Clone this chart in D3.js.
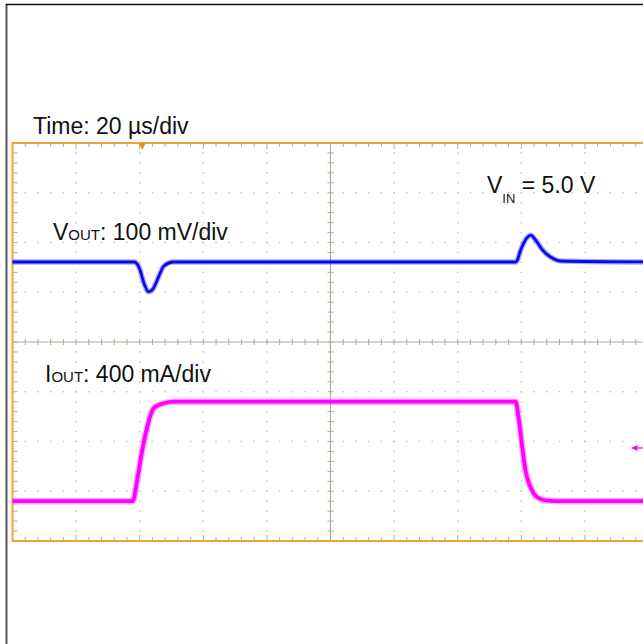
<!DOCTYPE html>
<html><head><meta charset="utf-8">
<script src="https://cdn.jsdelivr.net/npm/d3@7"></script>
<style>html,body{margin:0;padding:0;background:#fff;}svg{display:block;}</style>
</head><body>
<svg id="c" width="643" height="644"></svg>
<script>
// ---- Data (time in µs, 20 µs/div, 10 divisions) ----
const voutTime = [0, 38.3, 40.0, 41.3, 42.8, 44.2, 45.8, 47.6, 50.5, 158.2, 158.6, 159.8, 161.7, 163.0, 164.5, 166.7, 169.2, 172.3, 200];
const voutMv   = [0, 0, -14, -42, -60, -54, -32, -8, 0, 0, 2, 24, 48, 54, 44, 24, 10, 2, 0];
const ioutTime = [0, 37.8, 39.2, 40.8, 42.35, 44.4, 47.6, 50.6, 158.2, 159.2, 160.3, 161.3, 162.9, 165.0, 168.1, 173.3, 200];
const ioutMa   = [0, 0, 169, 410, 595, 748, 788, 800, 800, 660, 434, 249, 113, 32, 5, 0, 0];
const labels = {time: "Time: 20 µs/div", vout: ": 100 mV/div", iout: ": 400 mA/div", vin: " = 5.0 V"};
const voutScale = 100;  // mV/div
const ioutScale = 400;  // mA/div

const svg = d3.select("#c");
const FONT = "'Liberation Sans', Arial, sans-serif";

// outer frame
svg.append("line").attr("x1",6.5).attr("x2",6.5).attr("y1",4).attr("y2",644).attr("stroke","#555").attr("stroke-width",2);
svg.append("line").attr("x1",6).attr("x2",643).attr("y1",4.5).attr("y2",4.5).attr("stroke","#111").attr("stroke-width",1.5);

const x = d3.scaleLinear().domain([0, 200]).range([12.5, 648.5]);
const yDiv = d3.scaleLinear().domain([-4, 4]).range([541, 143]);
const xDivW = (x(200)-x(0))/10, yDivH = (yDiv(-4)-yDiv(4))/8;

const g = svg.append("g");
// dotted grid
const gridCol = "#c8c8c8";
for (let k = 1; k < 10; k++) {
  if (k === 5) continue;
  const xx = x(k*20);
  for (let m = 1; m < 40; m++) {
    g.append("rect").attr("x", xx-0.75).attr("y", yDiv(4) + m*yDivH/5 - 0.75).attr("width",1.5).attr("height",1.5).attr("fill",gridCol);
  }
}
for (let k = -3; k <= 3; k++) {
  if (k === 0) continue;
  const yy = yDiv(k);
  for (let m = 1; m < 50; m++) {
    g.append("rect").attr("x", x(0) + m*xDivW/5 - 0.75).attr("y", yy-0.75).attr("width",1.5).attr("height",1.5).attr("fill",gridCol);
  }
}
// center lines with ticks
const axCol = "#b4aa98";
g.append("line").attr("x1", x(100)).attr("x2", x(100)).attr("y1", yDiv(4)).attr("y2", yDiv(-4)).attr("stroke", axCol).attr("stroke-width",1.2);
g.append("line").attr("x1", x(0)).attr("x2", x(200)).attr("y1", yDiv(0)).attr("y2", yDiv(0)).attr("stroke", axCol).attr("stroke-width",1.2);
d3.range(1, 40).forEach(m => {
  const yy = yDiv(4) + m*yDivH/5;
  g.append("line").attr("x1", x(100)-3).attr("x2", x(100)+3).attr("y1", yy).attr("y2", yy).attr("stroke", axCol).attr("stroke-width",1);
  g.append("line").attr("x1", x(0)).attr("x2", x(0)+5).attr("y1", yy).attr("y2", yy).attr("stroke", axCol).attr("stroke-width",1);
});
d3.range(1, 50).forEach(m => {
  const xx = x(0) + m*xDivW/5;
  g.append("line").attr("x1", xx).attr("x2", xx).attr("y1", yDiv(0)-3).attr("y2", yDiv(0)+3).attr("stroke", axCol).attr("stroke-width",1);
  g.append("line").attr("x1", xx).attr("x2", xx).attr("y1", yDiv(4)).attr("y2", yDiv(4)+(m%5===0?6:4)).attr("stroke", axCol).attr("stroke-width",1);
  g.append("line").attr("x1", xx).attr("x2", xx).attr("y1", yDiv(-4)).attr("y2", yDiv(-4)-(m%5===0?6:4)).attr("stroke", axCol).attr("stroke-width",1);
});
// orange border
g.append("rect").attr("x", x(0)).attr("y", yDiv(4)).attr("width", x(200)-x(0)).attr("height", yDiv(-4)-yDiv(4))
  .attr("fill","none").attr("stroke","#f0a53c").attr("stroke-width",2);

// traces
const voutPos = 1.608, ioutPos = -3.2;
const vData = voutTime.map((t,i)=>[t, voutMv[i]]);
const iData = ioutTime.map((t,i)=>[t, ioutMa[i]]);
const vLine = d3.line().x(d=>x(d[0])).y(d=>yDiv(voutPos + d[1]/voutScale)).curve(d3.curveMonotoneX);
const iLine = d3.line().x(d=>x(d[0])).y(d=>yDiv(ioutPos + d[1]/ioutScale)).curve(d3.curveMonotoneX);
g.append("path").attr("d", vLine(vData)).attr("fill","none").attr("stroke","#3030ff").attr("stroke-width",5.5).attr("opacity",0.4);
g.append("path").attr("d", vLine(vData)).attr("fill","none").attr("stroke","#0a0ae6").attr("stroke-width",2.8);
g.append("path").attr("d", iLine(iData)).attr("fill","none").attr("stroke","#ff40ff").attr("stroke-width",6.5).attr("opacity",0.45);
g.append("path").attr("d", iLine(iData)).attr("fill","none").attr("stroke","#ff00ff").attr("stroke-width",3.8);

// trigger marker
const tx = x(40.8);
g.append("path").attr("d", `M${tx-3.5},${yDiv(4)} L${tx+3.5},${yDiv(4)} L${tx},${yDiv(4)+7} Z`).attr("fill","#f08a1a");
// magenta level arrow
const ay = yDiv(-2.13);
g.append("path").attr("d", `M${x(194.5)},${ay} L${x(196.5)},${ay-3} L${x(196.5)},${ay+3} Z`).attr("fill","#ff00ff");
g.append("line").attr("x1", x(196)).attr("x2", 643).attr("y1", ay).attr("y2", ay).attr("stroke","#ff00ff").attr("stroke-width",1.2);

// labels
const T = svg.append("g").attr("font-family", FONT).attr("fill","#111");
T.append("text").attr("x",33).attr("y",134).attr("font-size",23).text(labels.time);
const v = T.append("text").attr("x",53).attr("y",240).attr("font-size",23);
v.append("tspan").text("V");
v.append("tspan").attr("font-size",15).text("OUT");
v.append("tspan").text(labels.vout);
const ii = T.append("text").attr("x",45).attr("y",382).attr("font-size",23);
ii.append("tspan").text("I");
ii.append("tspan").attr("font-size",15).text("OUT");
ii.append("tspan").text(labels.iout);
const vin = T.append("text").attr("x",487).attr("y",193).attr("font-size",23);
vin.append("tspan").text("V");
vin.append("tspan").attr("font-size",13).attr("dy",10).text("IN");
vin.append("tspan").attr("dy",-10).text(labels.vin);
</script>
</body></html>
